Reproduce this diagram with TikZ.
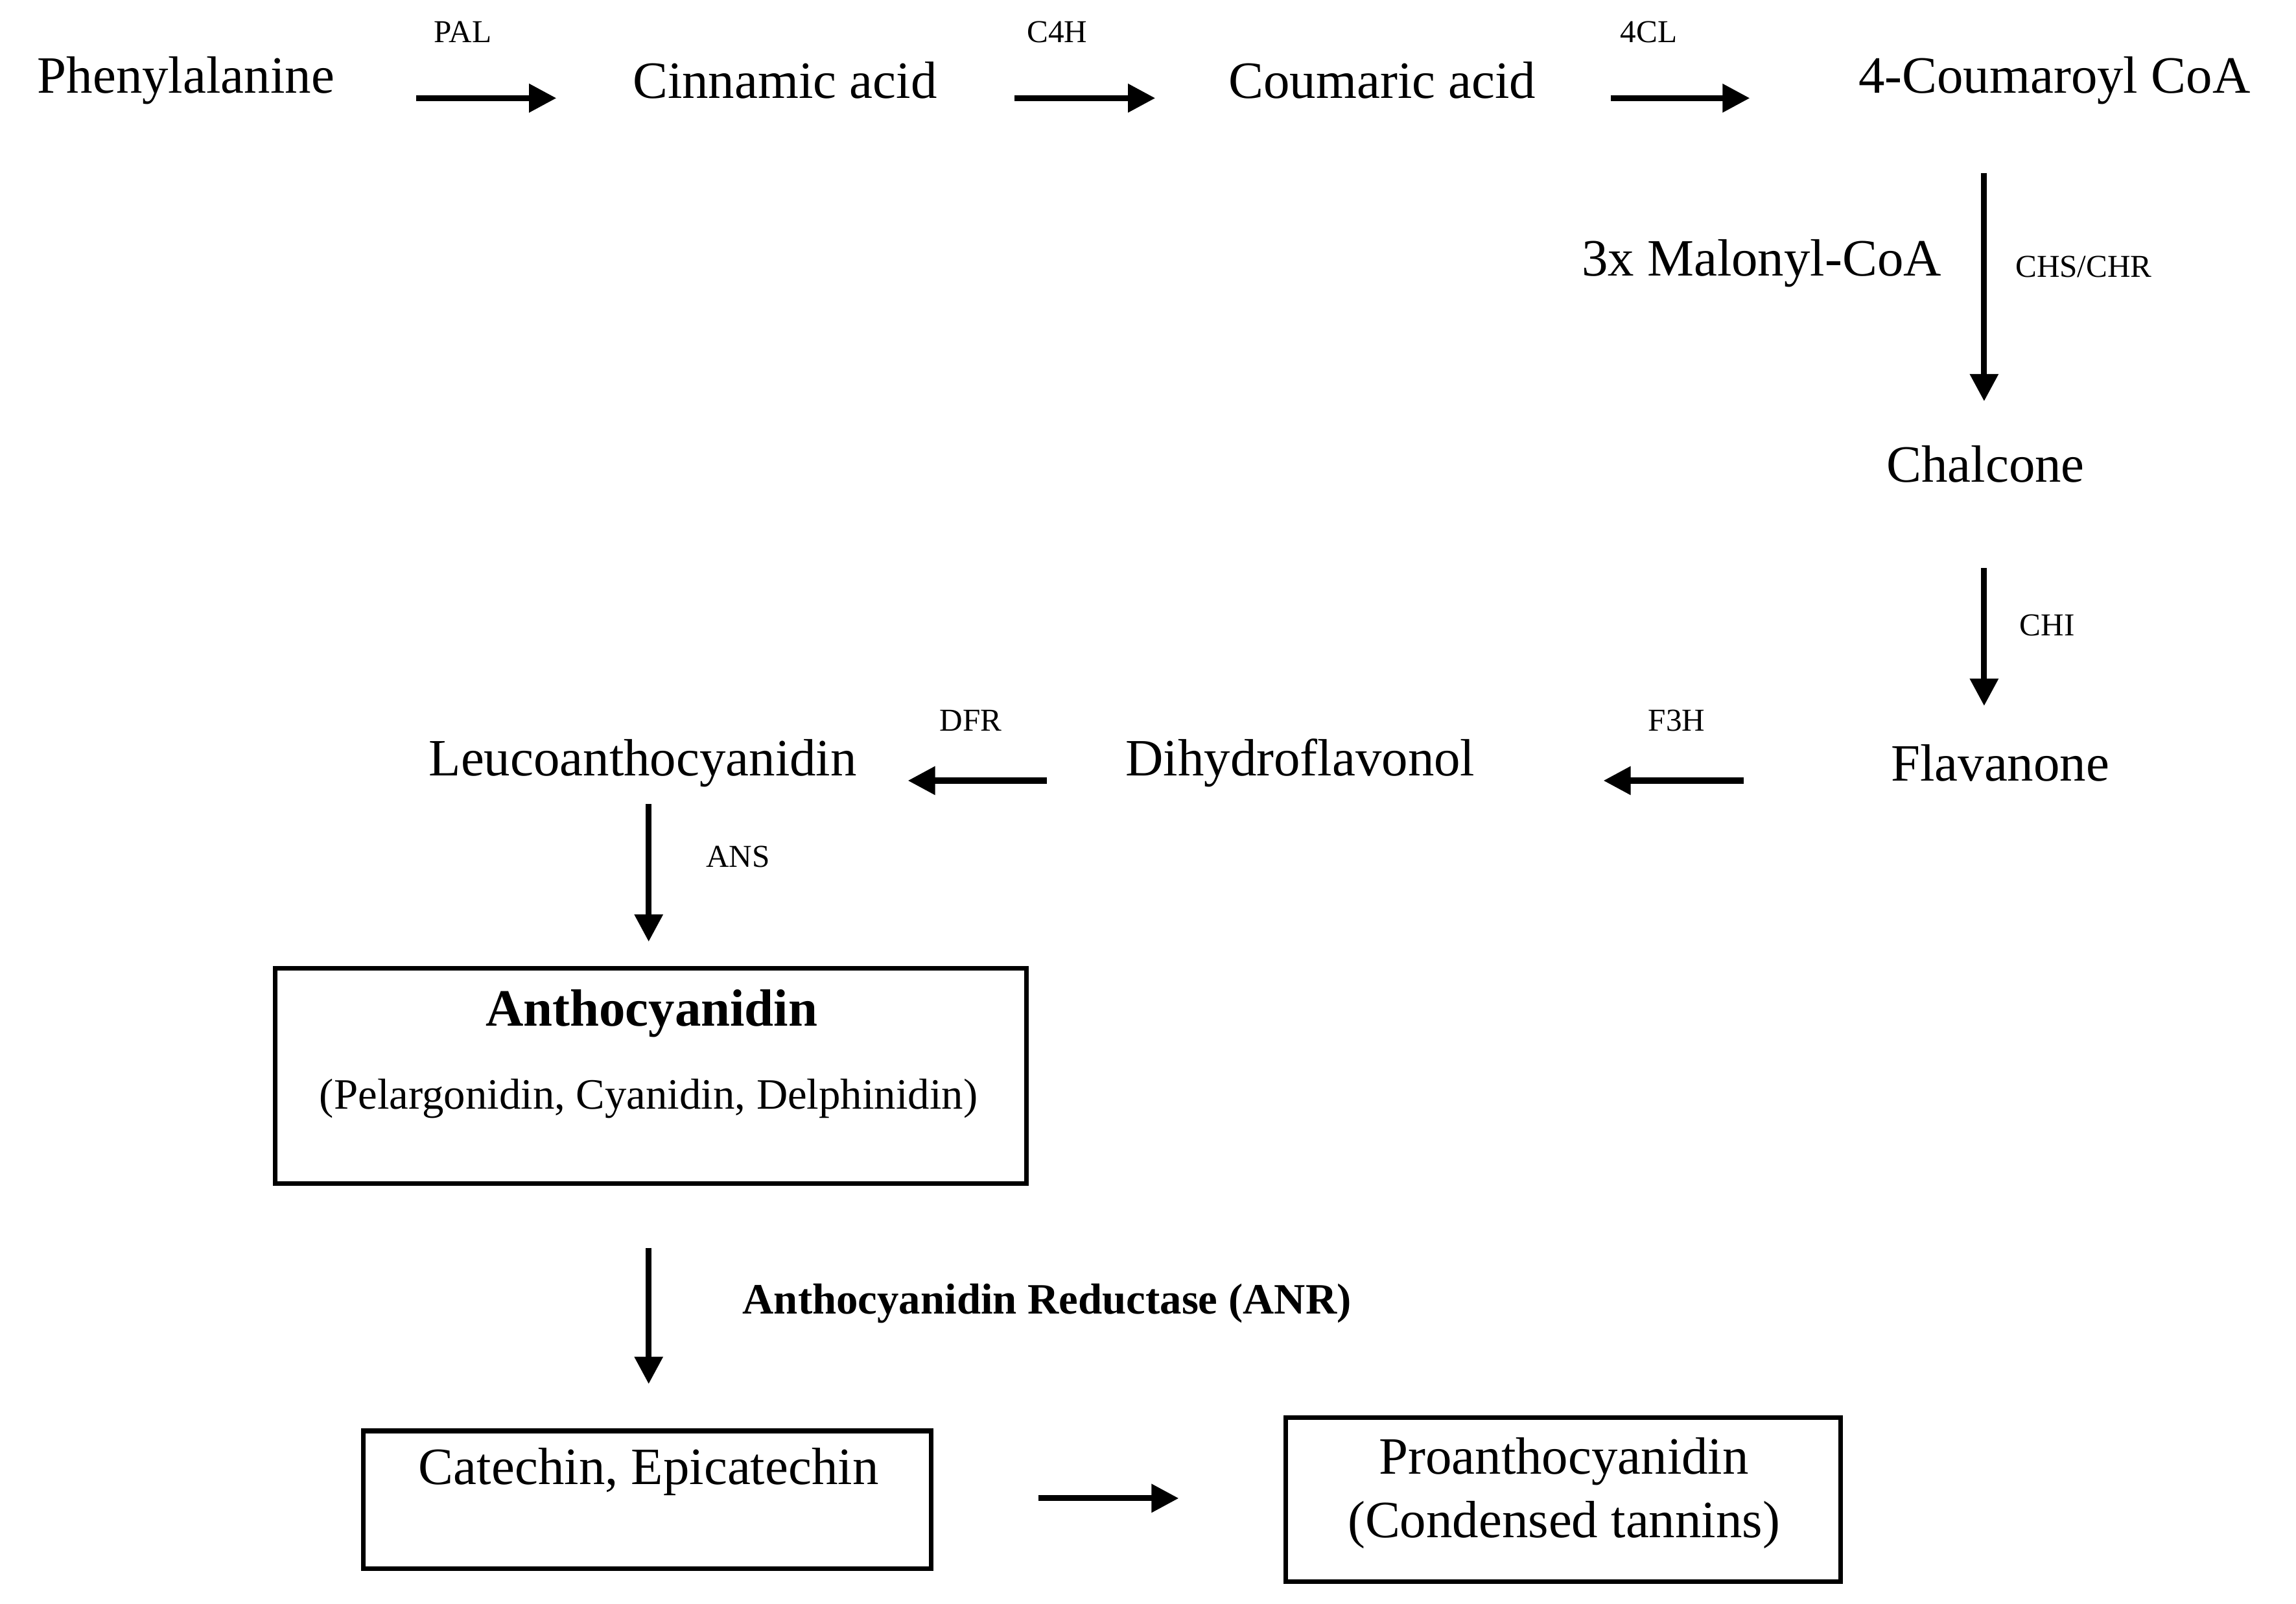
\documentclass[tikz,border=0pt]{standalone}
\usepackage{fontspec}
\setmainfont{Liberation Serif}
\usetikzlibrary{arrows.meta}
\begin{document}
\begin{tikzpicture}[x=0.02259cm,y=-0.02259cm,
  main/.style={font=\fontsize{23}{27}\selectfont,inner sep=0pt},
  enz/.style={font=\fontsize{14}{17}\selectfont,inner sep=0pt},
  arr/.style={line width=2.6pt,-{Triangle[length=12pt,width=12pt]}},
  box/.style={draw,line width=2pt}]
\useasboundingbox (0,0) rectangle (1568,1095);
\node[main] (phe) at (127,55) {Phenylalanine};
\node[main] (cin) at (536,55) {Cinnamic acid};
\node[main] (cou) at (944,55) {Coumaric acid};
\node[main] (cca) at (1403,55) {4-Coumaroyl CoA};
\node[enz] (pal) at (316,22) {PAL};
\node[enz] (c4h) at (722,22) {C4H};
\node[enz] (cl4) at (1126,22) {4CL};
\coordinate (a1s) at (284,67); \coordinate (a1e) at (380,67);
\coordinate (a2s) at (693,67); \coordinate (a2e) at (789,67);
\coordinate (a3s) at (1100,67); \coordinate (a3e) at (1195,67);
\draw[arr] (a1s)--(a1e); \draw[arr] (a2s)--(a2e); \draw[arr] (a3s)--(a3e);
\coordinate (a4s) at (1355,118); \coordinate (a4e) at (1355,274);
\draw[arr] (a4s)--(a4e);
\node[main] (mal) at (1203,180) {3x Malonyl-CoA};
\node[enz] (chs) at (1423,182) {CHS/CHR};
\node[main] (cha) at (1356,317) {Chalcone};
\coordinate (a5s) at (1355,388); \coordinate (a5e) at (1355,482);
\draw[arr] (a5s)--(a5e);
\node[enz] (chi) at (1398,427) {CHI};
\node[main] (fla) at (1366,521) {Flavanone};
\coordinate (a6s) at (1191,533); \coordinate (a6e) at (1095,533);
\draw[arr] (a6s)--(a6e);
\node[enz] (f3h) at (1145,492) {F3H};
\node[main] (dih) at (888,521) {Dihydroflavonol};
\coordinate (a7s) at (715,533); \coordinate (a7e) at (620,533);
\draw[arr] (a7s)--(a7e);
\node[enz] (dfr) at (663,492) {DFR};
\node[main] (leu) at (439,521) {Leucoanthocyanidin};
\coordinate (a8s) at (443,549); \coordinate (a8e) at (443,643);
\draw[arr] (a8s)--(a8e);
\node[enz] (ans) at (504,585) {ANS};
\draw[box] (188,661) rectangle (701,808);
\node[main,font=\fontsize{23}{27}\selectfont\bfseries] (ant) at (445,692) {Anthocyanidin};
\node[main,font=\fontsize{19}{23}\selectfont] (ants) at (443,750) {(Pelargonidin, Cyanidin, Delphinidin)};
\coordinate (a9s) at (443,852); \coordinate (a9e) at (443,945);
\draw[arr] (a9s)--(a9e);
\node[main,font=\fontsize{19}{23}\selectfont\bfseries] (anr) at (715,890) {Anthocyanidin Reductase (ANR)};
\draw[box] (248,977) rectangle (636,1071);
\node[main] (cat) at (443,1005) {Catechin, Epicatechin};
\coordinate (a10s) at (709,1023); \coordinate (a10e) at (805,1023);
\draw[arr] (a10s)--(a10e);
\draw[box] (878,968) rectangle (1257,1080);
\node[main] (pro1) at (1068,998) {Proanthocyanidin};
\node[main] (pro2) at (1068,1041) {(Condensed tannins)};
\end{tikzpicture}
\end{document}
